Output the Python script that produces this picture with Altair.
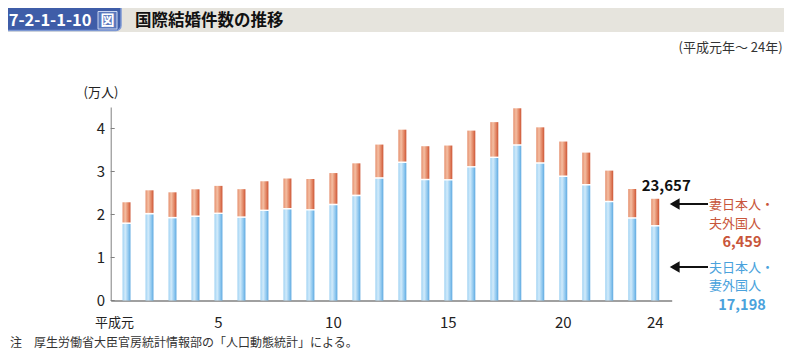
import altair as alt
import pandas as pd

# 平成元年～24年（年次番号）
years = list(range(1, 25))
# 夫日本人・妻外国人（件）
husband_jp = [17800, 20026, 19096, 19423, 20092, 19216, 20787, 21162, 20902, 22159,
              24272, 28326, 31972, 27957, 27881, 30907, 33116, 35993, 31807, 28720,
              26747, 22843, 19022, 17198]
# 妻日本人・夫外国人（件）
wife_jp = [5043, 5600, 6063, 6439, 6565, 6675, 6940, 7210, 7349, 7477,
           7628, 7937, 7755, 7922, 8158, 8604, 8365, 8708, 8465, 8249,
           7646, 7364, 6912, 6459]
tick_years = [5, 10, 15, 20, 24]
y_ticks = [0, 1, 2, 3, 4]

FONT = "Noto Sans CJK JP"
RED = "#c8553a"
BLUE = "#4aa2dc"

df = pd.DataFrame({
    "year": years,
    "blue": [v / 10000 for v in husband_jp],
    "total": [(a + b) / 10000 for a, b in zip(husband_jp, wife_jp)],
})
df["label"] = [f"{a + b:,}" for a, b in zip(husband_jp, wife_jp)]

xs = alt.Scale(domain=[0.53, 24.5], nice=False, zero=False)
ys = alt.Scale(domain=[0, 4.5], nice=False)

blue_grad = alt.LinearGradient(
    gradient="linear", x1=0, x2=1, y1=0, y2=0,
    stops=[alt.GradientStop(color="#9fd2f3", offset=0),
           alt.GradientStop(color="#d2ebfb", offset=0.35),
           alt.GradientStop(color="#8cc6ee", offset=0.75),
           alt.GradientStop(color="#5fa9e0", offset=1)])
red_grad = alt.LinearGradient(
    gradient="linear", x1=0, x2=1, y1=0, y2=0,
    stops=[alt.GradientStop(color="#e58e6c", offset=0),
           alt.GradientStop(color="#f4bea2", offset=0.35),
           alt.GradientStop(color="#e0805e", offset=0.75),
           alt.GradientStop(color="#cc5536", offset=1)])

base = alt.Chart(df)

blue_bars = base.mark_bar(size=8, color=blue_grad).encode(
    x=alt.X("year:Q", scale=xs,
            axis=alt.Axis(labels=False, ticks=False, grid=False, title=None,
                          domainColor="#a0a0a0", domainWidth=2)),
    y=alt.Y("blue:Q", scale=ys,
            axis=alt.Axis(values=y_ticks, ticks=False, grid=False, title=None,
                          domainColor="#808080", labelFontSize=15, labelColor="#222",
                          labelPadding=6, labelFont=FONT, format="d")),
)
red_bars = base.mark_bar(size=8, color=red_grad, y2Offset=-1.5).encode(
    x=alt.X("year:Q", scale=xs), y=alt.Y("total:Q", scale=ys), y2="blue:Q")

total_label = alt.Chart(df.tail(1)).mark_text(
    font=FONT, fontSize=15, fontWeight="bold", color="#111", dy=-13, dx=11
).encode(x=alt.X("year:Q", scale=xs), y=alt.Y("total:Q", scale=ys), text="label:N")

ytick_df = pd.DataFrame({"v": y_ticks})
yticks = alt.Chart(ytick_df).mark_rule(color="#808080", strokeWidth=1).encode(
    y=alt.Y("v:Q", scale=ys), x=alt.value(0), x2=alt.value(4))

xl_df = pd.DataFrame({"year": tick_years, "t": [str(v) for v in tick_years]})
xlabels = alt.Chart(xl_df).mark_text(font=FONT, fontSize=15, color="#222").encode(
    x=alt.X("year:Q", scale=xs), y=alt.value(216), text="t:N")
first_df = pd.DataFrame({"year": [years[0]], "t": ["平成元"]})
xlabel_first = alt.Chart(first_df).mark_text(font=FONT, fontSize=13, color="#222", dx=-12).encode(
    x=alt.X("year:Q", scale=xs), y=alt.value(216), text="t:N")


def txt(t, x, y, size=13, color="#222", weight="normal", align="left"):
    return alt.Chart(pd.DataFrame({"t": [t]})).mark_text(
        font=FONT, fontSize=size, color=color, fontWeight=weight, align=align,
        baseline="middle").encode(x=alt.value(x), y=alt.value(y), text="t:N")


def box(x, x2, y, y2, **kw):
    return alt.Chart(pd.DataFrame({"a": [0]})).mark_rect(**kw).encode(
        x=alt.value(x), x2=alt.value(x2), y=alt.value(y), y2=alt.value(y2))


banner = box(-110, 690, -110, -75, color="#e6e4dd")
badge = box(-110, 10.3, -106, -76.5, color="#3f5da8", stroke="#7d98d4", strokeWidth=1.5, cornerRadius=5)
zu_box = box(-12.7, 6.3, -95.5, -78, fill="#5a78bd", stroke="#c9d5f0", strokeWidth=1)

texts = [
    txt("7-2-1-1-10", -102, -86.5, size=16.5, color="white", weight="bold"),
    txt("図", -3.2, -86.5, size=14, color="white", weight="bold", align="center"),
    txt("国際結婚件数の推移", 24.3, -86.5, size=16.5, color="#111", weight="bold"),
    txt("(平成元年～ 24年)", 672, -59, size=13, color="#333", align="right"),
    txt("(万人)", -9.7, -14, size=13, color="#222", align="center"),
    txt("注　厚生労働省大臣官房統計情報部の「人口動態統計」による。", -100.7, 236, size=12, color="#333"),
    txt("妻日本人・", 598.3, 97.5, size=13, color=RED),
    txt("夫外国人", 598.3, 117, size=13, color=RED),
    txt(f"{wife_jp[-1]:,}", 631.3, 136, size=14.5, color=RED, weight="bold", align="center"),
    txt("夫日本人・", 598.3, 160.5, size=13, color=BLUE),
    txt("妻外国人", 598.3, 179, size=13, color=BLUE),
    txt(f"{husband_jp[-1]:,}", 631.3, 199, size=14.5, color=BLUE, weight="bold", align="center"),
]


def arrow(y):
    line = alt.Chart(pd.DataFrame({"a": [0]})).mark_rule(color="#111", strokeWidth=2).encode(
        x=alt.value(565), x2=alt.value(597.3), y=alt.value(y))
    head = alt.Chart(pd.DataFrame({"a": [0]})).mark_point(
        shape="triangle-left", filled=True, size=130, color="#111", opacity=1).encode(
        x=alt.value(564), y=alt.value(y))
    return line + head


chart = alt.layer(
    banner, badge, zu_box,
    blue_bars, red_bars, yticks, total_label, xlabels, xlabel_first,
    arrow(97), arrow(160),
    *texts,
).properties(
    width=561, height=193.5,
    autosize=alt.AutoSizeParams(type="none"),
    padding={"left": 102.7, "top": 99, "right": 112.3, "bottom": 50.5},
).configure(font=FONT).configure_view(stroke=None)

chart.save("out.html", embed_options={"renderer": "svg", "actions": False})
